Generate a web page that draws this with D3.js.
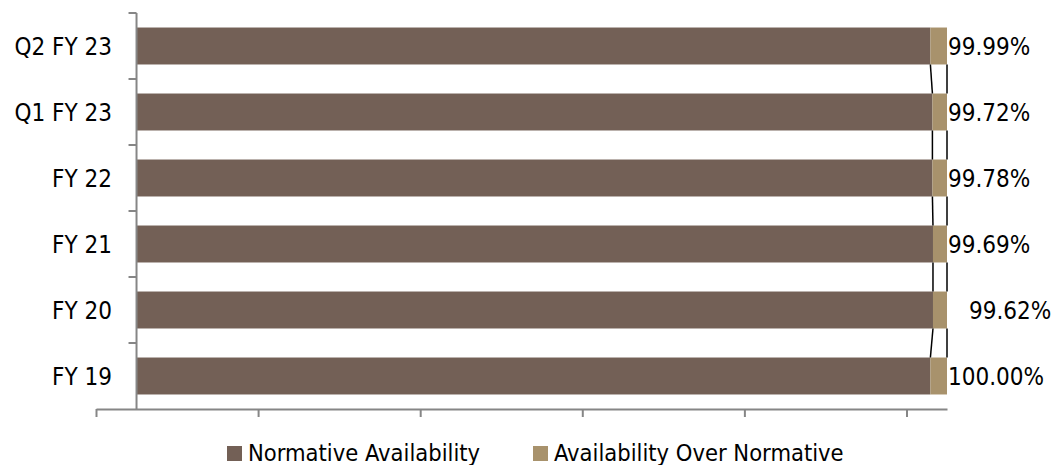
<!DOCTYPE html>
<html>
<head>
<meta charset="utf-8">
<script src="https://cdn.jsdelivr.net/npm/d3@7"></script>
<style>
  body { margin: 0; background: #fff; }
  #chart text { font-family: "DejaVu Sans Condensed", "DejaVu Sans", sans-serif; fill: #000; }
</style>
</head>
<body>
<div id="chart"></div>
<script>
var WIDTH = 1055;
var HEIGHT = 465;

// categories top to bottom
var categories = ["Q2 FY 23", "Q1 FY 23", "FY 22", "FY 21", "FY 20", "FY 19"];
// stacked pieces (share of bar)
var normative = [97.95, 98.2, 98.2, 98.27, 98.27, 97.95];
var overNormative = [2.05, 1.8, 1.8, 1.73, 1.73, 2.05];
// availability labels shown at the bar ends
var availLabels = ["99.99%", "99.72%", "99.78%", "99.69%", "99.62%", "100.00%"];
var seriesNames = ["Normative Availability", "Availability Over Normative"];
var xTicks = [-5, 15, 35, 55, 75, 95];

var colors = ["#736056", "#a8926c"];

// the FY 20 label was pushed right by hand in the original
var labelNudge = { "FY 20": 21 };

function drawChart() {
    var svg = d3.select("#chart")
        .append("svg")
        .attr("width", WIDTH)
        .attr("height", HEIGHT);

    var xScale = d3.scaleLinear()
        .domain([-5, 100])
        .range([96, 947]);

    var yScale = d3.scaleBand()
        .domain(categories)
        .range([13, 409])
        .paddingInner(0.44)
        .paddingOuter(0.22);

    var rows = categories.map(function(c, i) {
        return { cat: c, normative: normative[i], over: overNormative[i], label: availLabels[i] };
    });

    var stack = d3.stack().keys(["normative", "over"]);
    var layers = stack(rows);

    // bars
    svg.selectAll(".layer")
        .data(layers)
        .enter()
        .append("g")
        .attr("class", "layer")
        .style("fill", function(d, i) { return colors[i]; })
        .selectAll("rect")
        .data(function(d) { return d; })
        .enter()
        .append("rect")
        .attr("x", function(d) { return xScale(d[0]); })
        .attr("width", function(d) { return xScale(d[1]) - xScale(d[0]); })
        .attr("y", function(d) { return yScale(d.data.cat); })
        .attr("height", yScale.bandwidth());

    // series lines between neighbouring bars
    var step = yScale.step();
    layers.forEach(function(layer) {
        for (var i = 0; i < layer.length - 1; i++) {
            svg.append("line")
                .attr("x1", xScale(layer[i][1]))
                .attr("y1", yScale(layer[i].data.cat) + yScale.bandwidth())
                .attr("x2", xScale(layer[i + 1][1]))
                .attr("y2", yScale(layer[i + 1].data.cat))
                .style("stroke", "#000")
                .style("stroke-width", 1.5);
        }
    });

    // x axis (no labels)
    var xAxis = svg.append("g")
        .attr("transform", "translate(0," + 409 + ")")
        .call(d3.axisBottom(xScale).tickValues(xTicks).tickSize(8).tickSizeOuter(0).tickFormat(""));
    xAxis.select(".domain").style("stroke", "#868686").style("stroke-width", 2);
    xAxis.selectAll(".tick line").style("stroke", "#868686").style("stroke-width", 2);

    // y axis: ticks at band boundaries
    var yAxisG = svg.append("g");
    yAxisG.append("line")
        .attr("x1", xScale(0)).attr("x2", xScale(0))
        .attr("y1", 13).attr("y2", 409)
        .style("stroke", "#868686").style("stroke-width", 2);
    var bounds = d3.range(categories.length + 1).map(function(i) { return 13 + i * step; });
    yAxisG.selectAll(".ytick")
        .data(bounds.slice(0, -1))
        .enter()
        .append("line")
        .attr("class", "ytick")
        .attr("x1", xScale(0) - 8).attr("x2", xScale(0))
        .attr("y1", function(d) { return d; }).attr("y2", function(d) { return d; })
        .style("stroke", "#868686").style("stroke-width", 2);

    svg.selectAll(".catLabel")
        .data(categories)
        .enter()
        .append("text")
        .attr("class", "catLabel")
        .attr("x", 112)
        .attr("y", function(d) { return yScale(d) + yScale.bandwidth() / 2; })
        .attr("dy", "0.36em")
        .attr("text-anchor", "end")
        .style("font-size", "24px")
        .text(function(d) { return d; });

    // availability labels
    svg.selectAll(".valLabel")
        .data(rows)
        .enter()
        .append("text")
        .attr("class", "valLabel")
        .attr("x", function(d) { return xScale(d.normative + d.over) + 1 + (labelNudge[d.cat] || 0); })
        .attr("y", function(d) { return yScale(d.cat) + yScale.bandwidth() / 2; })
        .attr("dy", "0.36em")
        .style("font-size", "24px")
        .text(function(d) { return d.label; });

    // legend
    var legendX = [227, 533];
    var legend = svg.selectAll(".legendItem")
        .data(seriesNames)
        .enter()
        .append("g")
        .attr("class", "legendItem")
        .attr("transform", function(d, i) { return "translate(" + legendX[i] + ",446)"; });
    legend.append("rect")
        .attr("width", 15)
        .attr("height", 15)
        .style("fill", function(d, i) { return colors[i]; });
    legend.append("text")
        .attr("x", 21)
        .attr("y", 15)
        .style("font-size", "23.5px")
        .text(function(d) { return d; });
}

drawChart();
</script>
</body>
</html>
